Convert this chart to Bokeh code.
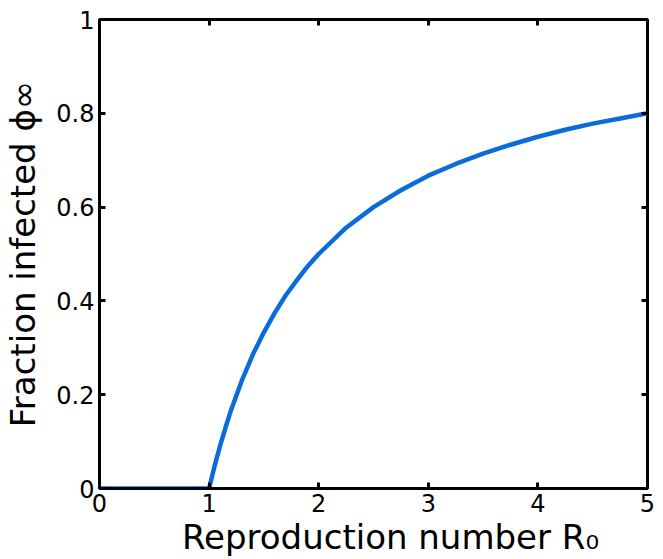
from bokeh.plotting import figure
from bokeh.models import LinearAxis, Range1d, FixedTicker
from bokeh.embed import file_html
from bokeh.resources import INLINE

# Data
r0 = [0.0, 0.5, 1.0, 1.05, 1.1, 1.15, 1.2, 1.3, 1.4, 1.5, 1.6, 1.7, 1.8, 1.9, 2.0,
      2.25, 2.5, 2.75, 3.0, 3.25, 3.5, 3.75, 4.0, 4.25, 4.5, 4.75, 5.0]
phi = [0.0, 0.0, 0.0, 0.048, 0.091, 0.130, 0.167, 0.231, 0.286, 0.333, 0.375, 0.412,
       0.444, 0.474, 0.500, 0.556, 0.600, 0.636, 0.667, 0.692, 0.714, 0.733, 0.750,
       0.765, 0.778, 0.789, 0.800]
x_ticks = [0, 1, 2, 3, 4, 5]
y_ticks = [0, 0.2, 0.4, 0.6, 0.8, 1]
x_tick_labels = ["0", "1", "2", "3", "4", "5"]
y_tick_labels = ["0", "0.2", "0.4", "0.6", "0.8", "1"]

FONT = "DejaVu Sans"

p = figure(width=663, height=559, output_backend="svg", toolbar_location=None,
           x_range=Range1d(0, 5), y_range=Range1d(0, 1),
           min_border_left=97, min_border_top=19, min_border_right=16, min_border_bottom=70,
           background_fill_color="white", border_fill_color="white")
p.xgrid.visible = False
p.ygrid.visible = False
p.outline_line_color = "black"
p.outline_line_width = 3
p.outline_line_alpha = 1

p.line(r0, phi, line_color="#0a6cdb", line_width=4.5)

bottom = p.below[0]
left = p.left[0]
top = LinearAxis()
right = LinearAxis()
p.add_layout(top, "above")
p.add_layout(right, "right")

for ax in [bottom, top]:
    ax.ticker = FixedTicker(ticks=x_ticks)
for ax in [left, right]:
    ax.ticker = FixedTicker(ticks=y_ticks)

for ax in [bottom, left, top, right]:
    ax.axis_line_color = "black"
    ax.axis_line_width = 3
    ax.major_tick_in = 6
    ax.major_tick_out = 0
    ax.major_tick_line_width = 3
    ax.major_tick_line_color = "black"
    ax.minor_tick_line_color = None
    ax.major_label_text_font = FONT
    ax.major_label_text_font_size = "24px"
    ax.major_label_text_color = "black"

for ax in [top, right]:
    ax.major_label_overrides = {t: "" for t in (x_ticks if ax is top else y_ticks)}
    ax.major_label_standoff = 0
    ax.axis_line_color = None

bottom.major_label_overrides = dict(zip(x_ticks, x_tick_labels))
left.major_label_overrides = dict(zip(y_ticks, y_tick_labels))
bottom.major_label_standoff = 5
left.major_label_standoff = 5

bottom.axis_label = "\u2002\u2002Reproduction number R\u2080"
left.axis_label = "Fraction infected \u03d5\u221e"
for ax in [bottom, left]:
    ax.axis_label_text_font = FONT
    ax.axis_label_text_font_size = "34px"
    ax.axis_label_text_font_style = "normal"
    ax.axis_label_text_color = "black"
bottom.axis_label_standoff = 2
left.axis_label_standoff = 10

open("out.html", "w").write(file_html(p, INLINE))
